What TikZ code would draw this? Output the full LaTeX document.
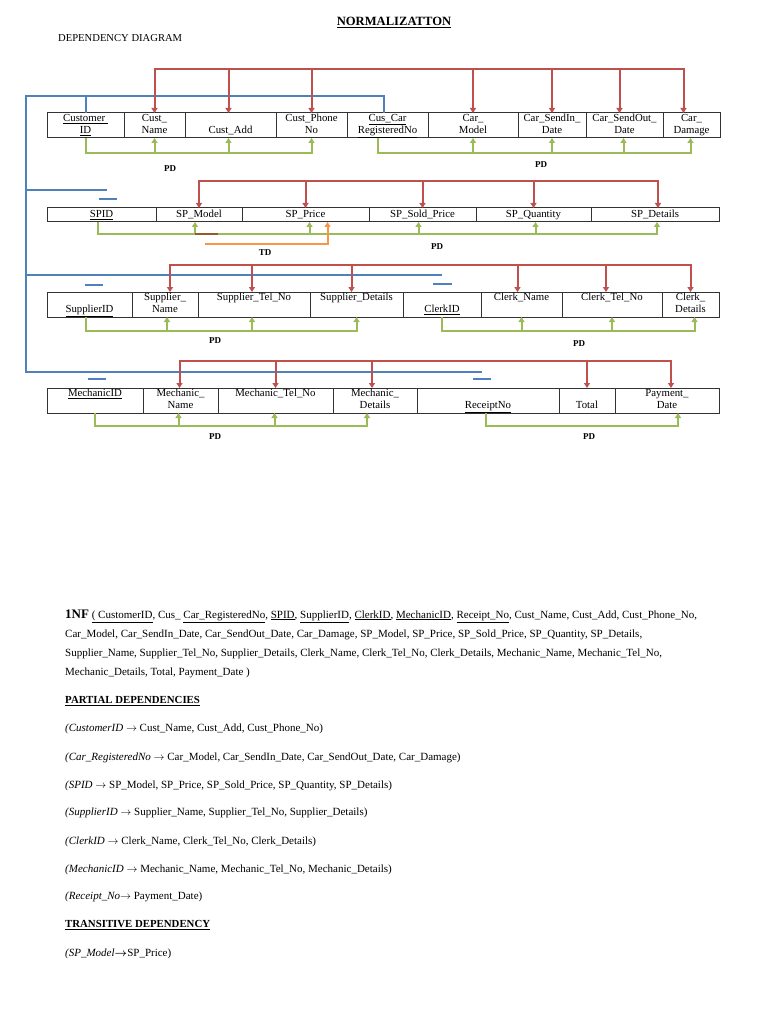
\documentclass[tikz,border=0pt]{standalone}
\usepackage{amsmath}
\usepackage{fontspec}
\setmainfont{Liberation Serif}
\usepackage{tikz}
\usetikzlibrary{positioning,arrows.meta}

\definecolor{depred}{HTML}{C0504D}
\definecolor{depgreen}{HTML}{9BBB59}
\definecolor{depblue}{HTML}{4F81BD}
\definecolor{deporange}{HTML}{F79646}

\newcommand{\twoln}[2]{\strut#1\\\strut#2}

\begin{document}
\begin{tikzpicture}[x=1pt,y=-1pt,
    cell/.style={draw=black!80, line width=1pt, inner sep=0pt, outer sep=0pt,
                 minimum width=#1, minimum height=25pt, align=center,
                 font=\fontsize{10.8}{12}\selectfont},
    flat/.style={minimum height=14pt},
    redln/.style={draw=depred, line width=2pt},
    grnln/.style={draw=depgreen, line width=2pt},
    bluln/.style={draw=depblue, line width=2pt},
    orgln/.style={draw=deporange, line width=2pt},
    onehead/.style={arrows={-Triangle[length=5pt,width=6pt]}},
    bothhead/.style={arrows={Triangle[length=5pt,width=6pt]-Triangle[length=5pt,width=6pt]}},
    lbl/.style={inner sep=0pt, font=\bfseries\fontsize{9}{10}\selectfont},
    txt/.style={anchor=west, inner sep=0pt, font=\fontsize{11}{13}\selectfont},
    head/.style={anchor=west, inner sep=0pt, font=\bfseries\fontsize{10.8}{12}\selectfont}]

    \path[fill=white] (0,0) rectangle (768,1024);
    \useasboundingbox (0,0) rectangle (768,1024);

    \node[font=\bfseries\fontsize{12.6}{14}\selectfont] (title) at (394,23) {\underline{NORMALIZATTON}};
    \node[txt, font=\fontsize{10.6}{12}\selectfont] (subtitle) at (58,38) {DEPENDENCY DIAGRAM};

    % customer / car
    \node[cell=77pt, anchor=north west] (cid) at (47,113) {\twoln{\underline{Customer\ }}{\underline{ID}}};
    \node[cell=61pt, right=0pt of cid] (cname) {\twoln{Cust\_}{Name}};
    \node[cell=91pt, right=0pt of cname] (cadd) {\twoln{}{Cust\_Add}};
    \node[cell=71pt, right=0pt of cadd] (cphone) {\twoln{Cust\_Phone}{No}};
    \node[cell=81pt, right=0pt of cphone] (creg) {\twoln{\underline{Cus\_Car}}{\underline{RegisteredNo}}};
    \node[cell=90pt, right=0pt of creg] (cmodel) {\twoln{Car\_}{Model}};
    \node[cell=68pt, right=0pt of cmodel] (csin) {\twoln{Car\_SendIn\_}{Date}};
    \node[cell=77pt, right=0pt of csin] (csout) {\twoln{Car\_SendOut\_}{Date}};
    \node[cell=57pt, right=0pt of csout] (cdmg) {\twoln{Car\_}{Damage}};

    % spare parts
    \node[cell=109pt, flat, anchor=north west] (spid) at (47,208) {\strut\underline{SPID}};
    \node[cell=86pt, flat, right=0pt of spid] (spmod) {\strut SP\_Model};
    \node[cell=127pt, flat, right=0pt of spmod] (sppr) {\strut SP\_Price};
    \node[cell=107pt, flat, right=0pt of sppr] (spsold) {\strut SP\_Sold\_Price};
    \node[cell=115pt, flat, right=0pt of spsold] (spqty) {\strut SP\_Quantity};
    \node[cell=128pt, flat, right=0pt of spqty] (spdet) {\strut SP\_Details};

    % supplier / clerk
    \node[cell=85pt, anchor=north west] (supid) at (47,292) {\twoln{}{\underline{SupplierID}}};
    \node[cell=66pt, right=0pt of supid] (supname) {\twoln{Supplier\_}{Name}};
    \node[cell=112pt, right=0pt of supname] (suptel) {\twoln{Supplier\_Tel\_No}{}};
    \node[cell=93pt, right=0pt of suptel] (supdet) {\twoln{Supplier\_Details}{}};
    \node[cell=78pt, right=0pt of supdet] (clkid) {\twoln{}{\underline{ClerkID}}};
    \node[cell=81pt, right=0pt of clkid] (clkname) {\twoln{Clerk\_Name}{}};
    \node[cell=100pt, right=0pt of clkname] (clktel) {\twoln{Clerk\_Tel\_No}{}};
    \node[cell=57pt, right=0pt of clktel] (clkdet) {\twoln{Clerk\_}{Details}};

    % mechanic / receipt
    \node[cell=96pt, anchor=north west] (mchid) at (47,388) {\twoln{\underline{MechanicID}}{}};
    \node[cell=75pt, right=0pt of mchid] (mchname) {\twoln{Mechanic\_}{Name}};
    \node[cell=115pt, right=0pt of mchname] (mchtel) {\twoln{Mechanic\_Tel\_No}{}};
    \node[cell=84pt, right=0pt of mchtel] (mchdet) {\twoln{Mechanic\_}{Details}};
    \node[cell=142pt, right=0pt of mchdet] (rcpt) {\twoln{}{\underline{ReceiptNo}}};
    \node[cell=56pt, right=0pt of rcpt] (total) {\twoln{}{Total}};
    \node[cell=104pt, right=0pt of total] (pay) {\twoln{Payment\_}{Date}};

    \coordinate (r1) at (0,69);  \coordinate (g1) at (0,153);
    \coordinate (r2) at (0,181); \coordinate (g2) at (0,234); \coordinate (o2) at (0,244);
    \coordinate (r3) at (0,265); \coordinate (g3) at (0,331);
    \coordinate (r4) at (0,361); \coordinate (g4) at (0,426);
    \coordinate (bl) at (26,96); \coordinate (b2) at (107,190);
    \coordinate (b3) at (442,275); \coordinate (b4) at (482,372);

    % key lines
    \draw[bluln] ([xshift=-4pt]creg.north) |- (bl) -- (bl |- b4) -- (b4);
    \draw[bluln] (cid.north) -- (cid.north |- bl);
    \draw[bluln] (bl |- b2) -- (b2);
    \draw[bluln] (bl |- b3) -- (b3);
    \draw[bluln] ([xshift=-3pt,yshift=9pt]spid.north) -- ++(18,0);
    \draw[bluln] ([xshift=-5pt,yshift=7pt]supid.north) -- ++(18,0);
    \draw[bluln] ([xshift=-9pt,yshift=8pt]clkid.north) -- ++(19,0);
    \draw[bluln] ([xshift=-7pt,yshift=9pt]mchid.north) -- ++(18,0);
    \draw[bluln] ([xshift=-15pt,yshift=9pt]rcpt.north) -- ++(18,0);

    % row 1
    \draw[redln, bothhead] (cname.north) |- ([xshift=-8pt]cdmg.north |- r1) -- ([xshift=-8pt]cdmg.north);
    \foreach \n/\d in {cadd/-2,cphone/0,cmodel/0,csin/0,csout/-5}
        \draw[redln, onehead] ([xshift=\d pt]\n.north |- r1) -- ([xshift=\d pt]\n.north);
    \draw[grnln, onehead] (cid.south) |- (cphone.south |- g1) -- (cphone.south);
    \foreach \n/\d in {cname/0,cadd/-2}
        \draw[grnln, onehead] ([xshift=\d pt]\n.south |- g1) -- ([xshift=\d pt]\n.south);
    \draw[grnln, onehead] ([xshift=-10pt]creg.south) |- ([xshift=-1pt]cdmg.south |- g1) -- ([xshift=-1pt]cdmg.south);
    \foreach \n/\d in {cmodel/0,csin/0,csout/-1}
        \draw[grnln, onehead] ([xshift=\d pt]\n.south |- g1) -- ([xshift=\d pt]\n.south);
    \node[lbl] (pd1) at (170,169) {PD};
    \node[lbl] (pd2) at (541,165) {PD};

    % row 2
    \draw[redln, bothhead] (spmod.north) |- ([xshift=3pt]spdet.north |- r2) -- ([xshift=3pt]spdet.north);
    \foreach \n in {sppr,spsold,spqty}
        \draw[redln, onehead] (\n.north |- r2) -- (\n.north);
    \draw[grnln, onehead] ([xshift=-4pt]spid.south) |- ([xshift=2pt]spdet.south |- g2) -- ([xshift=2pt]spdet.south);
    \foreach \n/\d in {spmod/-4,sppr/4,spsold/-4,spqty/2}
        \draw[grnln, onehead] ([xshift=\d pt]\n.south |- g2) -- ([xshift=\d pt]\n.south);
    \draw[orgln, draw=deporange!60!black] ([xshift=-4pt]spmod.south |- g2) -- ++(23,0);
    \draw[orgln, onehead] ([xshift=6pt]spmod.south |- o2) -| ([xshift=22pt]sppr.south);
    \node[lbl] (pd3) at (437,247) {PD};
    \node[lbl] (td1) at (265,253) {TD};

    % row 3
    \draw[redln, bothhead] ([xshift=5pt]supname.north) |- (clkdet.north |- r3) -- (clkdet.north);
    \foreach \n/\d in {suptel/-2,supdet/-5,clkname/-4,clktel/-6}
        \draw[redln, onehead] ([xshift=\d pt]\n.north |- r3) -- ([xshift=\d pt]\n.north);
    \draw[grnln, onehead] ([xshift=-4pt]supid.south) |- (supdet.south |- g3) -- (supdet.south);
    \foreach \n/\d in {supname/2,suptel/-2}
        \draw[grnln, onehead] ([xshift=\d pt]\n.south |- g3) -- ([xshift=\d pt]\n.south);
    \draw[grnln, onehead] (clkid.south) |- ([xshift=4pt]clkdet.south |- g3) -- ([xshift=4pt]clkdet.south);
    \foreach \n in {clkname,clktel}
        \draw[grnln, onehead] (\n.south |- g3) -- (\n.south);
    \node[lbl] (pd4) at (215,341) {PD};
    \node[lbl] (pd5) at (579,344) {PD};

    % row 4
    \draw[redln, bothhead] ([xshift=-1pt]mchname.north) |- ([xshift=4pt]pay.north |- r4) -- ([xshift=4pt]pay.north);
    \foreach \n/\d in {mchtel/0,mchdet/-3,total/0}
        \draw[redln, onehead] ([xshift=\d pt]\n.north |- r4) -- ([xshift=\d pt]\n.north);
    \draw[grnln, onehead] (mchid.south) |- ([xshift=-8pt]mchdet.south |- g4) -- ([xshift=-8pt]mchdet.south);
    \foreach \n/\d in {mchname/-2,mchtel/-1}
        \draw[grnln, onehead] ([xshift=\d pt]\n.south |- g4) -- ([xshift=\d pt]\n.south);
    \draw[grnln, onehead] ([xshift=-2pt]rcpt.south) |- ([xshift=11pt]pay.south |- g4) -- ([xshift=11pt]pay.south);
    \node[lbl] (pd6) at (215,437) {PD};
    \node[lbl] (pd7) at (589,437) {PD};

    % normal forms
    \node[txt] (nf1) at (65,616) {\textbf{\fontsize{13}{13}\selectfont 1NF} \underline{( CustomerID}, Cus\_ \underline{Car\_RegisteredNo}, \underline{SPID}, \underline{SupplierID}, \underline{ClerkID}, \underline{MechanicID}, \underline{Receipt\_No}, Cust\_Name, Cust\_Add, Cust\_Phone\_No,};
    \node[txt] (nf2) at (65,635) {Car\_Model, Car\_SendIn\_Date, Car\_SendOut\_Date, Car\_Damage, SP\_Model, SP\_Price, SP\_Sold\_Price, SP\_Quantity, SP\_Details,};
    \node[txt] (nf3) at (65,654) {Supplier\_Name, Supplier\_Tel\_No, Supplier\_Details, Clerk\_Name, Clerk\_Tel\_No, Clerk\_Details, Mechanic\_Name, Mechanic\_Tel\_No,};
    \node[txt] (nf4) at (65,673) {Mechanic\_Details, Total, Payment\_Date )};

    \node[head] (pdhead) at (65,701) {\underline{PARTIAL DEPENDENCIES}};
    \node[txt] (dep1) at (65,729) {\textit{(CustomerID} $\rightarrow$ Cust\_Name, Cust\_Add, Cust\_Phone\_No)};
    \node[txt] (dep2) at (65,758) {\textit{(Car\_RegisteredNo} $\rightarrow$ Car\_Model, Car\_SendIn\_Date, Car\_SendOut\_Date, Car\_Damage)};
    \node[txt] (dep3) at (65,786) {\textit{(SPID} $\rightarrow$ SP\_Model, SP\_Price, SP\_Sold\_Price, SP\_Quantity, SP\_Details)};
    \node[txt] (dep4) at (65,813) {\textit{(SupplierID} $\rightarrow$ Supplier\_Name, Supplier\_Tel\_No, Supplier\_Details)};
    \node[txt] (dep5) at (65,842) {\textit{(ClerkID} $\rightarrow$ Clerk\_Name, Clerk\_Tel\_No, Clerk\_Details)};
    \node[txt] (dep6) at (65,870) {\textit{(MechanicID} $\rightarrow$ Mechanic\_Name, Mechanic\_Tel\_No, Mechanic\_Details)};
    \node[txt] (dep7) at (65,897) {\textit{(Receipt\_No}$\rightarrow$ Payment\_Date)};

    \node[head] (tdhead) at (65,925) {\underline{TRANSITIVE DEPENDENCY}};
    \node[txt] (tdep) at (65,954) {\textit{(SP\_Model}$\boldsymbol{\rightarrow}$SP\_Price)};
\end{tikzpicture}
\end{document}
